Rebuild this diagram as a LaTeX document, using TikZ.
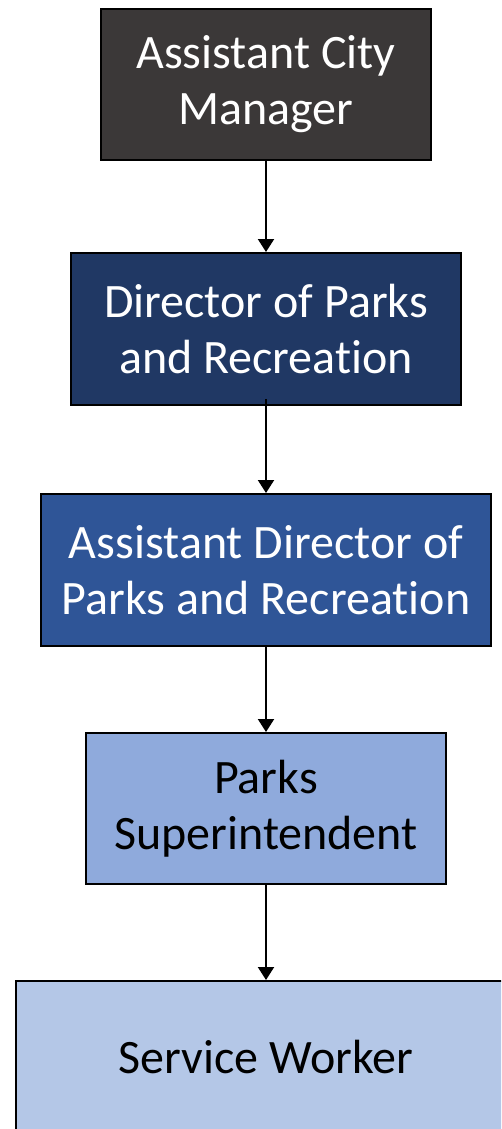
\documentclass[tikz,border=0pt]{standalone}
\usepackage{fontspec}
\setmainfont{Carlito}[Ligatures={NoCommon}]
\usetikzlibrary{arrows.meta}
\definecolor{cgray}{HTML}{3B3838}
\definecolor{cnavy}{HTML}{203864}
\definecolor{cblue}{HTML}{2F5597}
\definecolor{clight}{HTML}{8FAADC}
\definecolor{cpale}{HTML}{B4C7E7}
\tikzset{
  orgbox/.style={draw=black, line width=2pt, rectangle, inner sep=0pt, align=center,
    font=\fontsize{48}{56}\selectfont},
  conn/.style={line width=2pt, -{Triangle[length=13pt,width=16pt]}}
}
\begin{document}
\begin{tikzpicture}[x=1pt,y=-1pt]
\useasboundingbox (0,0) rectangle (501,1129);
\clip (0,0) rectangle (501,1129);
\fill[white] (0,0) rectangle (501,1129);
\node[orgbox, fill=cgray, text=white, minimum width=330pt, minimum height=151pt] (b1) at (266,84.5) {Assistant City\\Manager};
\node[orgbox, fill=cnavy, text=white, minimum width=390pt, minimum height=152pt] (b2) at (266,329) {Director of Parks\\and Recreation};
\node[orgbox, fill=cblue, text=white, minimum width=450pt, minimum height=152pt] (b3) at (266,570) {Assistant Director of\\Parks and Recreation};
\node[orgbox, fill=clight, text=black, minimum width=360pt, minimum height=151pt] (b4) at (266,808.5) {Parks\\Superintendent};
\node[orgbox, fill=cpale, text=black, minimum width=500pt, minimum height=151pt] (b5) at (266,1056.5) {Service Worker};
\draw[conn] (b1.south) -- (b2.north);
\draw[conn, shorten <=-7pt] (b2.south) -- (b3.north);
\draw[conn] (b3.south) -- (b4.north);
\draw[conn] (b4.south) -- (b5.north);
\end{tikzpicture}
\end{document}
